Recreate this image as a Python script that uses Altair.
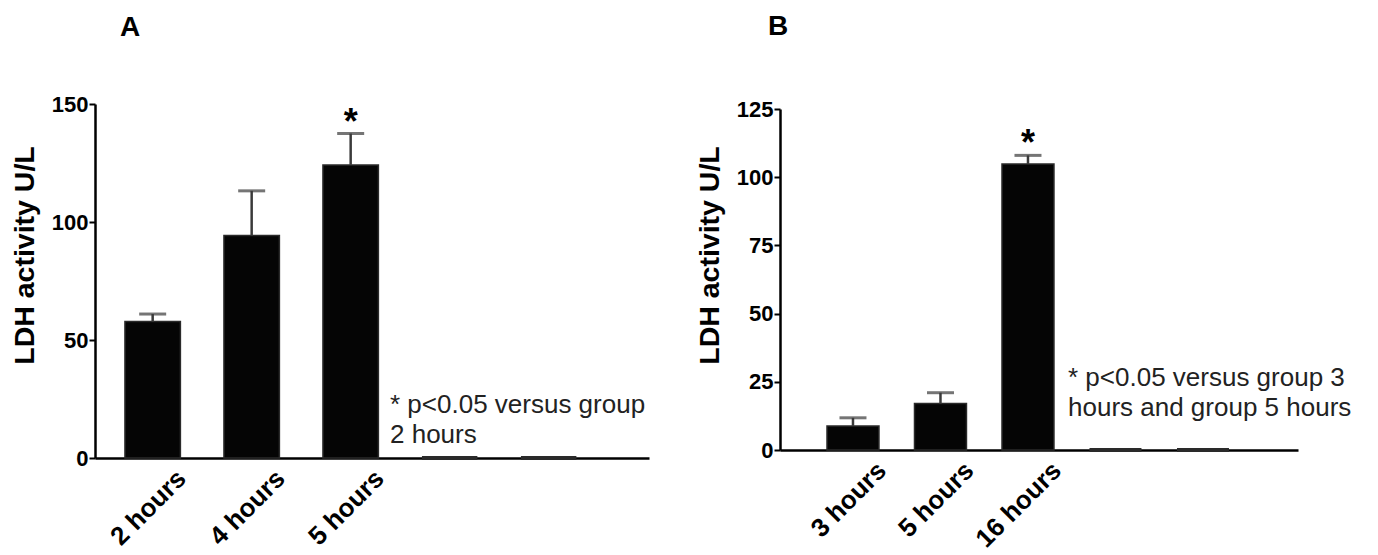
import altair as alt
import pandas as pd

# ---- data ----
# the last two groups of each panel are the empty (zero) columns on the axis
groups_a = ["2 hours", "4 hours", "5 hours", " ", "  "]
means_a = [57.8, 94.3, 124.2, 0, 0]
upper_a = [61.0, 113.2, 137.5, None, None]
sig_a = ["", "", "*", "", ""]

groups_b = ["3 hours", "5 hours", "16 hours", " ", "  "]
means_b = [8.8, 17.0, 104.8, 0, 0]
upper_b = [11.8, 21.0, 108.0, None, None]
sig_b = ["", "", "*", "", ""]

ticks_a = [0, 50, 100, 150]
ticks_b = [0, 25, 50, 75, 100, 125]
y_title = "LDH activity U/L"
note_a = ["* p<0.05 versus group", "2 hours"]
note_b = ["* p<0.05 versus group 3", "hours and group 5 hours"]

FONT = "Liberation Sans"


def panel(groups, means, upper, sig, ticks, ymax, note, width, height,
          yrange, xscale, note_xy, letter, letter_dx, letter_offset):
    df = pd.DataFrame({"g": groups, "m": means, "u": upper, "s": sig})
    x_axis = alt.Axis(labelAngle=315, ticks=False, domainColor="black",
                      domainWidth=2.5, labelFont=FONT, labelFontSize=26,
                      labelFontWeight="bold", labelColor="black",
                      labelPadding=7, labelOffset=20, grid=False)
    y_axis = alt.Axis(values=ticks, domainColor="black", domainWidth=2.5,
                      tickColor="black", tickWidth=2, tickSize=6,
                      labelFont=FONT, labelFontSize=22, labelFontWeight="bold",
                      labelColor="black", labelPadding=1, titleFont=FONT,
                      titleFontSize=28.5, titleFontWeight="bold",
                      titleColor="black", titlePadding=12, titleY=151,
                      grid=False)
    yscale = alt.Scale(domain=[0, ymax], nice=False, range=yrange)

    def X():
        return alt.X("g:N", sort=groups, scale=xscale, axis=x_axis, title=None)

    def Y(field):
        return alt.Y(field, scale=yscale, axis=y_axis, title=y_title)

    base = alt.Chart(df)
    bars = base.mark_bar(color="#050505", stroke="#2a2a2a").encode(
        x=X(), y=Y("m:Q"),
        strokeWidth=alt.condition(alt.datum.m == 0, alt.value(4), alt.value(1.5)))
    stems = base.mark_rule(color="#3a3a3a", strokeWidth=2.5).encode(
        x=X(), y=Y("m:Q"), y2="u:Q")
    caps = base.mark_tick(color="#3a3a3a", thickness=3, size=27,
                          orient="horizontal").encode(x=X(), y=Y("u:Q"))
    stars = base.mark_text(font=FONT, fontSize=36, fontWeight="bold",
                           baseline="alphabetic", dy=0, color="black").encode(
        x=X(), y=Y("u:Q"), text="s:N")
    note_mark = alt.Chart(pd.DataFrame({"k": [0]})).mark_text(
        text=note, font=FONT, fontSize=26, align="left",
        baseline="alphabetic", lineHeight=30, color="#222222").encode(
        x=alt.value(note_xy[0]), y=alt.value(note_xy[1]))
    return alt.layer(bars, stems, caps, stars, note_mark).properties(
        width=width, height=height,
        title=alt.TitleParams(letter, anchor="start", frame="group",
                              dx=letter_dx, offset=letter_offset, fontSize=28,
                              fontWeight="bold", font=FONT, color="black",
                              baseline="alphabetic"))


scale_a = alt.Scale(paddingInner=0.44, paddingOuter=0.518, align=0.292)
scale_b = alt.Scale(paddingInner=0.406, paddingOuter=0.663, align=0.405)

panel_a = panel(groups_a, means_a, upper_a, sig_a, ticks_a, 150, note_a,
                554, 354, [354, 0], scale_a, (295, 309), "A", 25, 29)
panel_b = panel(groups_b, means_b, upper_b, sig_b, ticks_b, 125, note_b,
                518, 346, [346, 5], scale_b, (288, 282), "B", -12, 35)

chart = alt.hconcat(panel_a, panel_b, spacing=46).properties(
    padding={"left": 2, "top": 5, "right": 5, "bottom": 0}
).configure(background="white").configure_view(stroke=None)

chart.save("out.html", embed_options={"renderer": "svg", "actions": False})
